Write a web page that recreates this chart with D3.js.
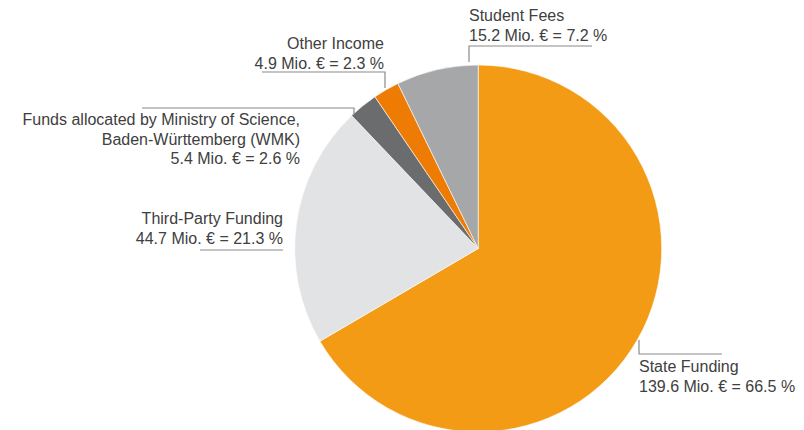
<!DOCTYPE html>
<html>
<head>
<meta charset="utf-8">
<script src="https://cdn.jsdelivr.net/npm/d3@7"></script>
<style>
  html, body { margin: 0; padding: 0; background: #fff; }
  svg text { font-family: "Liberation Sans", Arial, Helvetica, sans-serif; font-size: 16px; fill: #404040; }
</style>
</head>
<body>
<svg id="chart" width="804" height="430"></svg>
<script>
const categories = ["State Funding", "Third-Party Funding", "Funds allocated by Ministry of Science, Baden-Württemberg (WMK)", "Other Income", "Student Fees"];
const amounts = [139.6, 44.7, 5.4, 4.9, 15.2];
const percents = [66.5, 21.3, 2.6, 2.3, 7.2];
const colors = ["#F39B15", "#E2E3E4", "#6B6C6E", "#EE7B03", "#A6A7A9"];
const labelLines = [
  ["State Funding", "139.6 Mio. € = 66.5 %"],
  ["Third-Party Funding", "44.7 Mio. € = 21.3 %"],
  ["Funds allocated by Ministry of Science,", "Baden-Württemberg (WMK)", "5.4 Mio. € = 2.6 %"],
  ["Other Income", "4.9 Mio. € = 2.3 %"],
  ["Student Fees", "15.2 Mio. € = 7.2 %"]
];

const svg = d3.select("#chart");
const cx = 478.2, cy = 248.5, R = 183.5;

const pie = d3.pie().sort(null).value(d => d);
const arcs = pie(percents);
const arc = d3.arc().innerRadius(0).outerRadius(R);

const g = svg.append("g").attr("transform", `translate(${cx},${cy})`);
g.selectAll("path").data(arcs).enter().append("path")
  .attr("d", arc)
  .attr("fill", (d, i) => colors[i])
  .attr("stroke", "#fff")
  .attr("stroke-width", 0.6);

const lineColor = "#8a8a8a";
const layout = [
  { anchor: "start", x: 639, y: 372, pts: [[639, 340], [639, 354], [722, 354]] },
  { anchor: "end", x: 283, y: 224, pts: [[200, 250], [283, 250]] },
  { anchor: "end", x: 300, y: 125, pts: [[142, 108], [354, 108], [354, 114]] },
  { anchor: "end", x: 384, y: 49, pts: [[262, 72], [385, 72], [385, 88]] },
  { anchor: "start", x: 469, y: 21, pts: [[469, 62], [469, 46], [592, 46]] }
];
const lh = 19.5;

layout.forEach((L, i) => {
  svg.append("polyline")
    .attr("points", L.pts.map(p => p.join(",")).join(" "))
    .attr("fill", "none")
    .attr("stroke", lineColor)
    .attr("stroke-width", 1.2);
  const t = svg.append("text").attr("text-anchor", L.anchor);
  labelLines[i].forEach((s, k) => {
    t.append("tspan").attr("x", L.x).attr("y", L.y + k * lh).text(s);
  });
});
</script>
</body>
</html>
